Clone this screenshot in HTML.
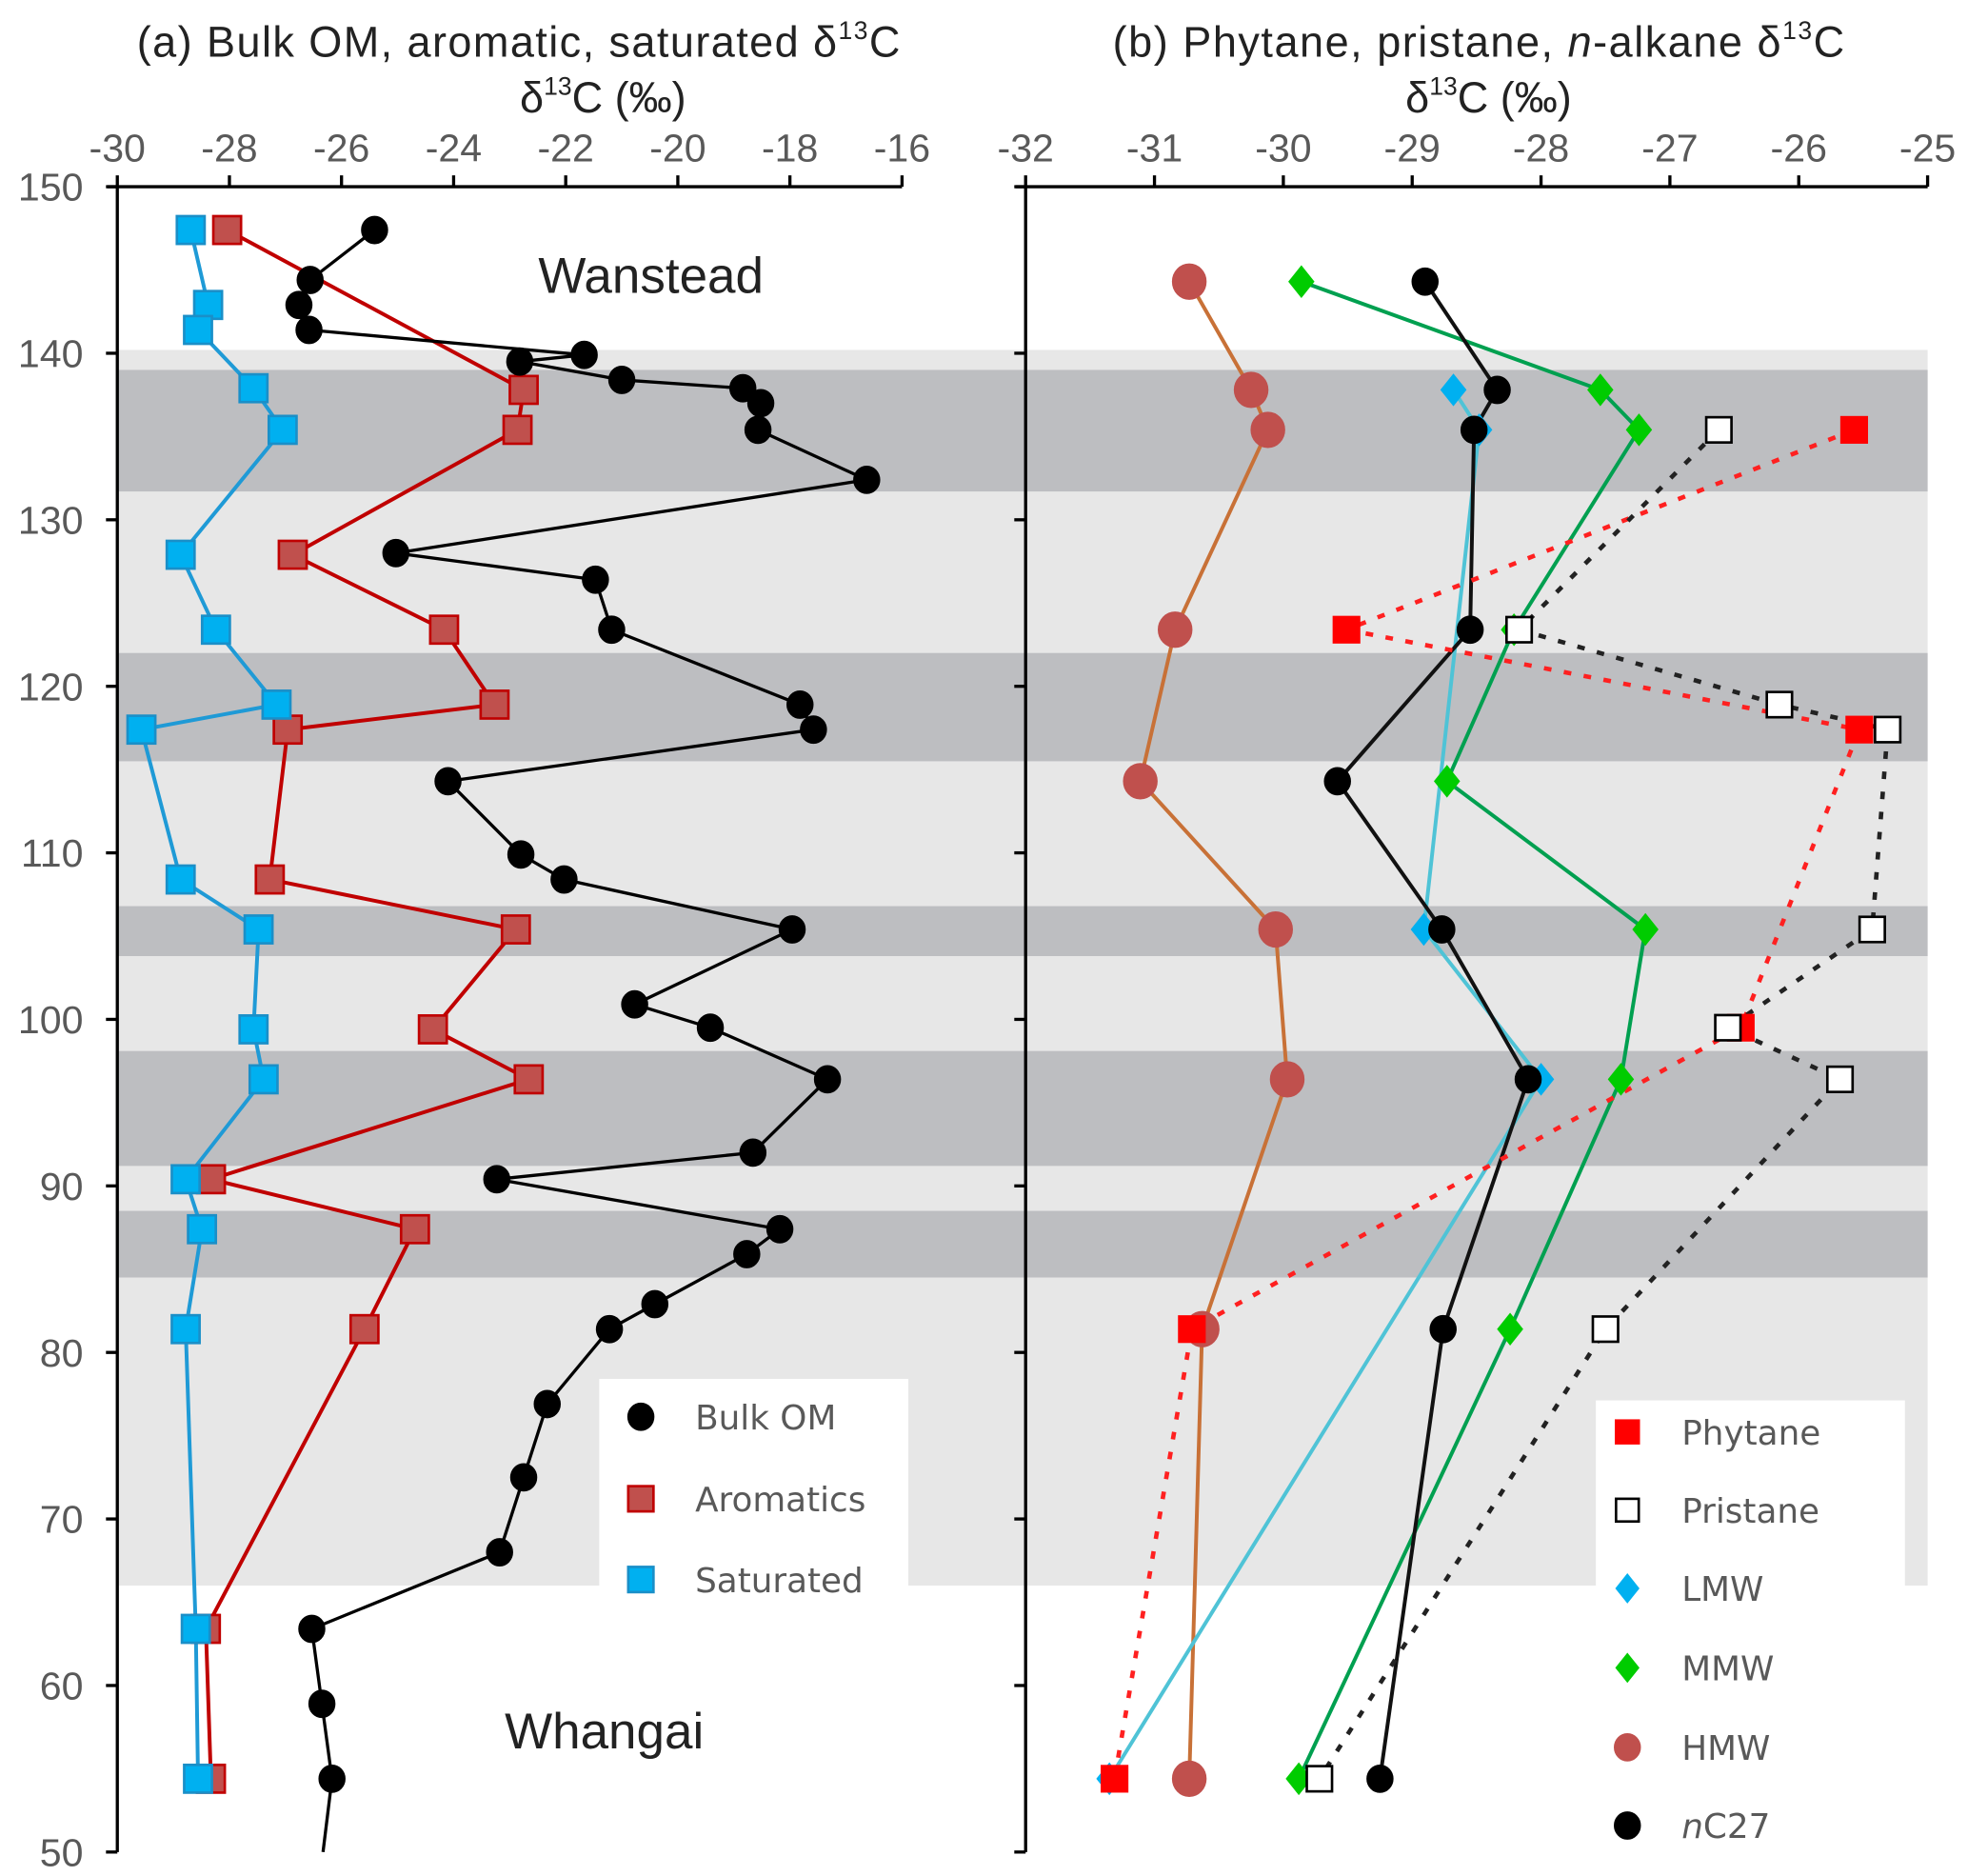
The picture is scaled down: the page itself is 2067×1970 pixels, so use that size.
<!DOCTYPE html>
<html><head><meta charset="utf-8"><style>
html,body{margin:0;padding:0;background:#fff}
svg{display:block}
text{font-family:"Liberation Sans",sans-serif}
.t{font-family:"Liberation Sans",sans-serif;fill:#222}
.tk{font-family:"Liberation Sans",sans-serif;fill:#595959;font-size:31px}
.lg{font-family:"DejaVu Sans","Liberation Sans",sans-serif;fill:#595959;font-size:27px}
</style></head><body>
<svg id="chart" width="2067" height="1970" viewBox="0 0 1560 1487" preserveAspectRatio="none" xmlns="http://www.w3.org/2000/svg">
<g id="bands"></g>
<g id="axes"></g>
<g id="series"></g>
<g id="legends"></g>
<text class="t" x="411" y="45" font-size="34" text-anchor="middle" textLength="605">(a) Bulk OM, aromatic, saturated δ<tspan font-size="20" dy="-14">13</tspan><tspan dy="14">C</tspan></text>
<text class="t" x="478" y="89" font-size="34" text-anchor="middle">δ<tspan font-size="20" dy="-14">13</tspan><tspan dy="14">C (‰)</tspan></text>
<text class="t" x="1172" y="45" font-size="34" text-anchor="middle" textLength="580">(b) Phytane, pristane, <tspan font-style="italic">n</tspan>-alkane δ<tspan font-size="20" dy="-14">13</tspan><tspan dy="14">C</tspan></text>
<text class="t" x="1180" y="89" font-size="34" text-anchor="middle">δ<tspan font-size="20" dy="-14">13</tspan><tspan dy="14">C (‰)</tspan></text>
<text class="t" x="516" y="232" font-size="40" text-anchor="middle">Wanstead</text>
<text class="t" x="479" y="1386" font-size="40" text-anchor="middle">Whangai</text>
</svg>
<script>
// ---------- data ----------
const depthTicks=[150,140,130,120,110,100,90,80,70,60,50];
const xTicksA=[-30,-28,-26,-24,-22,-20,-18,-16];
const xTicksB=[-32,-31,-30,-29,-28,-27,-26,-25];
const darkBands=[[139,131.7],[122,115.5],[106.8,103.8],[98.1,91.2],[88.5,84.5]];
const lightBand=[140.2,66];

const bulkDepth=[147.4,144.4,142.9,141.4,139.9,139.5,138.4,137.9,137,135.4,132.4,128,126.4,123.4,118.9,117.4,114.3,109.9,108.4,105.4,100.9,99.5,96.4,92,90.4,87.4,85.9,82.9,81.4,76.9,72.5,68,63.4,58.9,54.4];
const bulkVal=[-25.41,-26.56,-26.76,-26.58,-21.67,-22.82,-21.0,-18.84,-18.52,-18.57,-16.63,-25.03,-21.47,-21.18,-17.82,-17.58,-24.10,-22.80,-22.03,-17.96,-20.77,-19.42,-17.33,-18.66,-23.23,-18.18,-18.77,-20.41,-21.22,-22.33,-22.75,-23.18,-26.53,-26.35,-26.17];
const bulkTail=[50,-26.33];
const aroDepth=[147.4,137.8,135.4,127.9,123.4,118.9,117.4,108.4,105.4,99.4,96.4,90.4,87.4,81.4,63.4,54.4];
const aroVal=[-28.04,-22.75,-22.86,-26.87,-24.17,-23.27,-26.96,-27.28,-22.89,-24.37,-22.66,-28.33,-24.69,-25.59,-28.42,-28.33];
const satDepth=[147.4,142.9,141.4,137.9,135.4,127.9,123.4,118.9,117.4,108.4,105.4,99.4,96.4,90.4,87.4,81.4,63.4,54.4];
const satVal=[-28.69,-28.38,-28.56,-27.57,-27.05,-28.87,-28.24,-27.16,-29.57,-28.87,-27.48,-27.57,-27.39,-28.78,-28.49,-28.78,-28.6,-28.56];

const hmwDepth=[144.3,137.8,135.4,123.4,114.3,105.4,96.4,81.4,54.4];
const hmwVal=[-30.73,-30.25,-30.12,-30.84,-31.11,-30.06,-29.97,-30.63,-30.73];
const mmwDepth=[144.3,137.8,135.4,123.4,114.3,105.4,96.4,81.4,54.4];
const mmwVal=[-29.86,-27.54,-27.24,-28.21,-28.73,-27.19,-27.38,-28.24,-29.88];
const lmwDepth=[137.8,135.4,105.4,96.4,54.4];
const lmwVal=[-28.68,-28.48,-28.91,-28.0,-31.35];
const nc27Depth=[144.3,137.8,135.4,123.4,114.3,105.4,96.4,81.4,54.4];
const nc27Val=[-28.9,-28.34,-28.52,-28.55,-29.58,-28.77,-28.1,-28.76,-29.25];
const phyDepth=[135.4,123.4,117.4,99.5,81.4,54.4];
const phyVal=[-25.57,-29.51,-25.53,-26.45,-30.71,-31.31];
const priDepth=[135.4,123.4,118.9,117.4,105.4,99.5,96.4,81.4,54.4];
const priVal=[-26.62,-28.17,-26.15,-25.31,-25.43,-26.55,-25.68,-27.5,-29.72];

// ---------- scales ----------
const Y=d=>148+(150-d)*13.2;
const XA=v=>93+(v+30)*44.43;
const XB=v=>813+(v+32)*102.14;
const NS='http://www.w3.org/2000/svg';
function mk(tag,attrs,parent){const e=document.createElementNS(NS,tag);for(const k in attrs)e.setAttribute(k,attrs[k]);parent.appendChild(e);return e;}
const gB=document.getElementById('bands'),gA=document.getElementById('axes'),gS=document.getElementById('series'),gL=document.getElementById('legends');

// bands
let lb=mk('rect',{x:93,y:Y(lightBand[0]),width:1435,height:Y(lightBand[1])-Y(lightBand[0]),fill:'#e7e7e7'},gB);


darkBands.forEach(b=>{const r=mk('rect',{x:93,y:Y(b[0]),width:1435,height:Y(b[1])-Y(b[0]),fill:'#bdbec1'},gB);

});

// axes
function axes(x0,x1,ticks,X,labelY,leftLabels,name){
  let l=mk('line',{x1:x0,y1:148,x2:x0,y2:1468,stroke:'#000','stroke-width':2.5},gA);
  
  
  let t=mk('line',{x1:x0-8,y1:148,x2:x1,y2:148,stroke:'#000','stroke-width':2.5},gA);
  
  
  ticks.forEach(v=>{mk('line',{x1:X(v),y1:148,x2:X(v),y2:139,stroke:'#000','stroke-width':2.5},gA);
    const tx=mk('text',{x:X(v),y:labelY,'text-anchor':'middle',class:'tk'},gA);tx.textContent=v;
    
    });
  depthTicks.forEach(d=>{mk('line',{x1:x0-9,y1:Y(d),x2:x0,y2:Y(d),stroke:'#000','stroke-width':2.5},gA);
    if(leftLabels){const tx=mk('text',{x:66,y:Y(d)+11,'text-anchor':'end',class:'tk'},gA);tx.textContent=d;
    
    }});
}
axes(93,715,xTicksA,XA,128,true,'panel-a');
axes(813,1528,xTicksB,XB,128,false,'panel-b');

// series
function line(X,ds,vs,color,w,dash,name){
  const pts=ds.map((d,i)=>X(vs[i])+','+Y(d)).join(' ');
  const p=mk('polyline',{points:pts,fill:'none',stroke:color,'stroke-width':w},gS);
  if(dash)p.setAttribute('stroke-dasharray',dash);
  
  
}
function marker(type,cx,cy,fill,stroke,s,parent){
  let e;
  if(type==='c')e=mk('ellipse',{cx:cx,cy:cy,rx:s,ry:s*1.05,fill:fill,stroke:stroke,'stroke-width':1.5},parent);
  else if(type==='s')e=mk('rect',{x:cx-s,y:cy-s,width:2*s,height:2*s,fill:fill,stroke:stroke,'stroke-width':2},parent);
  else e=mk('polygon',{points:`${cx},${cy-s} ${cx+s*0.8},${cy} ${cx},${cy+s} ${cx-s*0.8},${cy}`,fill:fill},parent);
  return e;
}
function pts(X,ds,vs,type,fill,stroke,s,name){
  ds.forEach((d,i)=>{const e=marker(type,X(vs[i]),Y(d),fill,stroke,s,gS);
  
  });
}
// panel a
line(XA,aroDepth,aroVal,'#c00000',3,null,'aromatics');
line(XA,satDepth,satVal,'#1f9ad6',3,null,'saturated');
line(XA,bulkDepth.concat([bulkTail[0]]),bulkVal.concat([bulkTail[1]]),'#000',2.5,null,'bulk-om');
pts(XA,aroDepth,aroVal,'s','#c0504d','#c00000',11,'aromatics');
pts(XA,satDepth,satVal,'s','#00b0f0','#1a8fc8',11,'saturated');
pts(XA,bulkDepth,bulkVal,'c','#000','#000',10,'bulk-om');
// panel b
line(XB,hmwDepth,hmwVal,'#c87137',3,null,'hmw');
line(XB,lmwDepth,lmwVal,'#4fc3d6',3,null,'lmw');
line(XB,mmwDepth,mmwVal,'#00a050',3,null,'mmw');
line(XB,nc27Depth,nc27Val,'#111',3,null,'nc27');
line(XB,phyDepth,phyVal,'#ff2020',3.5,'6 10','phytane');
line(XB,priDepth,priVal,'#222',3.5,'6 10','pristane');
pts(XB,hmwDepth,hmwVal,'c','#c0504d','#c0504d',13,'hmw');
pts(XB,lmwDepth,lmwVal,'d','#00b0f0','',13,'lmw');
pts(XB,mmwDepth,mmwVal,'d','#00cc00','',13,'mmw');
pts(XB,nc27Depth,nc27Val,'c','#000','#000',10,'nc27');
pts(XB,phyDepth,phyVal,'s','#ff0000','#ff0000',10,'phytane');
pts(XB,priDepth,priVal,'s','#fff','#000',10,'pristane');

// legends
let la=mk('rect',{x:475,y:1093,width:245,height:177,fill:'#fff'},gL);


let lbx=mk('rect',{x:1265,y:1110,width:245,height:365,fill:'#fff'},gL);


function entry(type,mx,my,fill,stroke,s,label,tx,italicN,name){
  const g=mk('g',{},gL);
  
  
  marker(type,mx,my,fill,stroke,s,g);
  const t=mk('text',{x:tx,y:my+10,class:'lg'},g);
  if(italicN){const ts=mk('tspan',{'font-style':'italic'},t);ts.textContent='n';t.appendChild(document.createTextNode(label));}
  else t.textContent=label;
}
entry('c',508,1123,'#000','#000',10,'Bulk OM',551,false,'legend-entry-bulk-om');
entry('s',508,1188,'#c0504d','#c00000',10,'Aromatics',551,false,'legend-entry-aromatics');
entry('s',508,1252,'#00b0f0','#1a8fc8',10,'Saturated',551,false,'legend-entry-saturated');
entry('s',1290,1135,'#ff0000','#ff0000',9,'Phytane',1333,false,'legend-entry-phytane');
entry('s',1290,1197,'#fff','#000',9,'Pristane',1333,false,'legend-entry-pristane');
entry('d',1290,1259,'#00b0f0','',12,'LMW',1333,false,'legend-entry-lmw');
entry('d',1290,1322,'#00cc00','',12,'MMW',1333,false,'legend-entry-mmw');
entry('c',1290,1385,'#c0504d','#c0504d',10,'HMW',1333,false,'legend-entry-hmw');
entry('c',1290,1447,'#000','#000',10,'C27',1333,true,'legend-entry-nc27');
</script>
</body></html>
